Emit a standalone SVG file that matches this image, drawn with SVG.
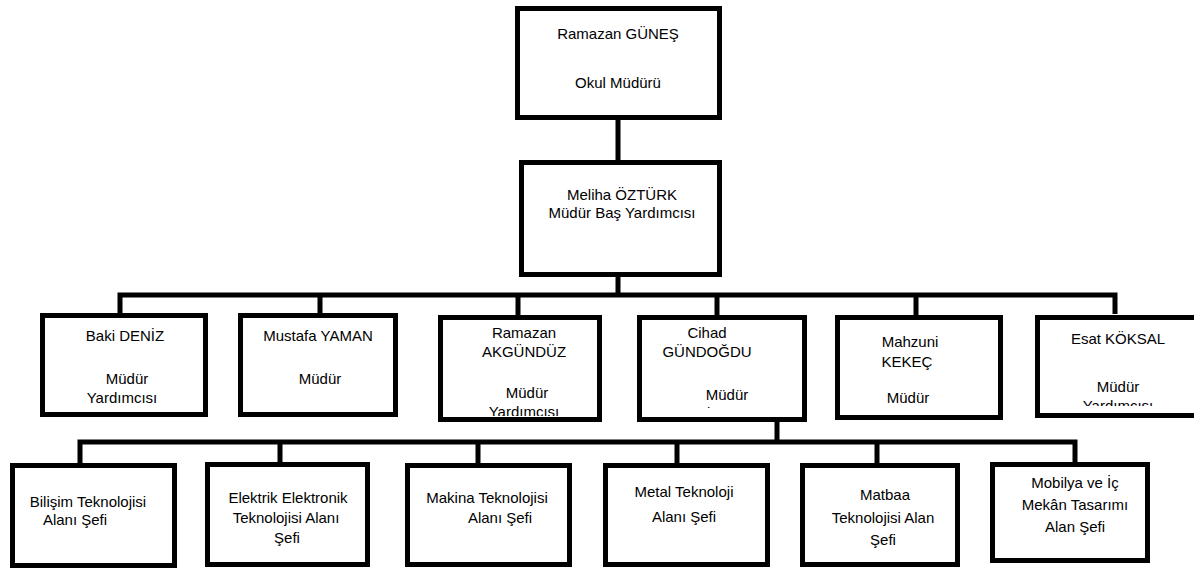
<svg xmlns="http://www.w3.org/2000/svg" width="1194" height="569" viewBox="0 0 1194 569">
<style>
.box{fill:#fff;stroke:#000;stroke-width:5}
.ln{fill:none;stroke:#000;stroke-width:5}
text{font-family:"Liberation Sans",Arial,sans-serif;font-size:15px;fill:#000;text-anchor:middle}
</style>
<defs>
<clipPath id="cAkg"><rect x="440" y="317" width="160" height="99"/></clipPath>
<clipPath id="cCih"><rect x="639" y="317" width="166" height="91"/></clipPath>
<clipPath id="cEsat"><rect x="1037" y="317" width="157" height="89"/></clipPath>
</defs>
<rect width="1194" height="569" fill="#fff"/>
<g id="connectors">
<path class="ln" d="M618 120V160"/>
<path class="ln" d="M618 277V295"/>
<path class="ln" d="M120 314V295H1115V314"/>
<path class="ln" d="M320 295V314M518 295V316M717 295V316M916 295V316"/>
<path class="ln" d="M777 421V442"/>
<path class="ln" d="M80 464V442H1075V463"/>
<path class="ln" d="M280 442V463M478 442V464M677 442V464M877 442V464"/>
</g>
<g id="n-ramazan-gunes">
<rect class="box" x="517.5" y="8.5" width="202" height="109"/>
<text x="618" y="39">Ramazan GÜNEŞ</text>
<text x="618" y="88">Okul Müdürü</text>
</g>
<g id="n-meliha">
<rect class="box" x="521.5" y="162.5" width="198" height="112"/>
<text x="622" y="200">Meliha ÖZTÜRK</text>
<text x="622" y="218">Müdür Baş Yardımcısı</text>
</g>
<g id="n-baki">
<rect class="box" x="42.5" y="315.5" width="163" height="99"/>
<text x="125" y="341">Baki DENİZ</text>
<text x="127" y="384">Müdür</text>
<text x="122" y="403">Yardımcısı</text>
</g>
<g id="n-mustafa">
<rect class="box" x="240.5" y="315.5" width="155" height="99"/>
<text x="318" y="341">Mustafa YAMAN</text>
<text x="320" y="384">Müdür</text>
</g>
<g id="n-ramazan-akgunduz">
<rect class="box" x="440.5" y="317.5" width="159" height="102"/>
<g clip-path="url(#cAkg)">
<text x="524" y="338">Ramazan</text>
<text x="524" y="357">AKGÜNDÜZ</text>
<text x="527" y="398">Müdür</text>
<text x="524" y="417">Yardımcısı</text>
</g>
</g>
<g id="n-cihad">
<rect class="box" x="639.5" y="317.5" width="165" height="102"/>
<g clip-path="url(#cCih)">
<text x="707" y="338">Cihad</text>
<text x="707" y="357">GÜNDOĞDU</text>
<text x="727" y="400">Müdür</text>
<text x="715" y="418">Yardımcısı</text>
</g>
</g>
<g id="n-mahzuni">
<rect class="box" x="837.5" y="317.5" width="163" height="100"/>
<text x="910" y="347">Mahzuni</text>
<text x="907" y="367">KEKEÇ</text>
<text x="908" y="403">Müdür</text>
</g>
<g id="n-esat">
<rect class="box" x="1037.5" y="317.5" width="160" height="98"/>
<g clip-path="url(#cEsat)">
<text x="1118" y="344">Esat KÖKSAL</text>
<text x="1118" y="392">Müdür</text>
<text x="1118" y="411">Yardımcısı</text>
</g>
</g>
<g id="n-bilisim">
<rect class="box" x="12.5" y="465.5" width="162" height="100"/>
<text x="88" y="507">Bilişim Teknolojisi</text>
<text x="75" y="525">Alanı Şefi</text>
</g>
<g id="n-elektrik">
<rect class="box" x="207.5" y="464.5" width="160" height="100"/>
<text x="288" y="503">Elektrik Elektronik</text>
<text x="286" y="523">Teknolojisi Alanı</text>
<text x="287" y="543">Şefi</text>
</g>
<g id="n-makina">
<rect class="box" x="407.5" y="465.5" width="162" height="99"/>
<text x="487" y="503">Makina Teknolojisi</text>
<text x="500" y="523">Alanı Şefi</text>
</g>
<g id="n-metal">
<rect class="box" x="605.5" y="465.5" width="162" height="99"/>
<text x="684" y="497">Metal Teknoloji</text>
<text x="684" y="522">Alanı Şefi</text>
</g>
<g id="n-matbaa">
<rect class="box" x="802.5" y="465.5" width="155" height="99"/>
<text x="885" y="500">Matbaa</text>
<text x="883" y="523">Teknolojisi Alan</text>
<text x="883" y="545">Şefi</text>
</g>
<g id="n-mobilya">
<rect class="box" x="992.5" y="464.5" width="155" height="96"/>
<text x="1075" y="488">Mobilya ve İç</text>
<text x="1075" y="510">Mekân Tasarımı</text>
<text x="1075" y="532">Alan Şefi</text>
</g>
</svg>
